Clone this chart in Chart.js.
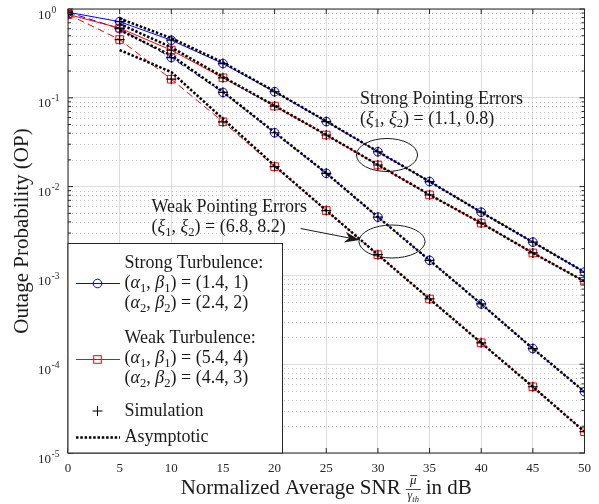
<!DOCTYPE html>
<html lang="en">
<head>
<meta charset="utf-8">
<title>Outage Probability vs Normalized SNR</title>
<script src="https://cdn.jsdelivr.net/npm/chart.js@4.4.1/dist/chart.umd.min.js"></script>
<style>
  html, body { margin: 0; padding: 0; background: #fff; }
  #wrap { position: relative; width: 599px; height: 504px; }
</style>
</head>
<body>
<div id="wrap"><canvas id="op-chart"></canvas></div>
<script>
// Normalized average SNR (dB)
const snrDb = [0, 5, 10, 15, 20, 25, 30, 35, 40, 45, 50];
const asymSnrDb = [5, 10, 15, 20, 25, 30, 35, 40, 45, 50];

// Exact OP
const opStrongTurbStrongPE = [0.92, 0.72, 0.445, 0.243, 0.117, 0.054, 0.0247, 0.0114, 0.00515, 0.00237, 0.00109];
const opWeakTurbStrongPE = [0.87, 0.61, 0.344, 0.168, 0.0807, 0.0381, 0.0175, 0.00807, 0.00388, 0.00179, 0.000857];
const opStrongTurbWeakPE = [0.92, 0.60, 0.284, 0.115, 0.0404, 0.0141, 0.00453, 0.00148, 0.000477, 0.00015, 0.000049];
const opWeakTurbWeakPE = [0.87, 0.453, 0.162, 0.0537, 0.0168, 0.00537, 0.00171, 0.000543, 0.000174, 0.0000557, 0.0000174];

// Asymptotic OP (from 5 dB)
const asymStrongTurbStrongPE = [0.78, 0.47, 0.25, 0.118, 0.0545, 0.0248, 0.0114, 0.00515, 0.00237, 0.00109];
const asymWeakTurbStrongPE = [0.68, 0.37, 0.172, 0.0815, 0.0383, 0.0176, 0.0081, 0.00388, 0.00179, 0.000857];
const asymStrongTurbWeakPE = [0.58, 0.30, 0.117, 0.0408, 0.0142, 0.00455, 0.00148, 0.000477, 0.00015, 0.000049];
const asymWeakTurbWeakPE = [0.345, 0.195, 0.058, 0.0172, 0.0054, 0.00171, 0.000543, 0.000174, 0.0000557, 0.0000174];

// Axes
const yTickValues = [1e-5, 1e-4, 1e-3, 1e-2, 1e-1, 1];
const yTickExponents = ['-5', '-4', '-3', '-2', '-1', '0'];
const yMinorFactors = [2, 3, 4, 5, 6, 7, 8, 9];
const xTickStep = 5;

const FONT = '"Liberation Serif", "Times New Roman", serif';
const AXIS_COLOR = '#262626';
const BLUE = '#0000ff';
const RED = '#ff0000';

const toPoints = (xs, ys) => xs.map((x, i) => ({ x: x, y: ys[i] }));

/**
 * Draw text made of roman / italic / subscript pieces
 */
function drawRich(ctx, parts, x, y, size) {
  let cx = x;
  parts.forEach(([t, k]) => {
    const sub = k === 's';
    const fs = sub ? size * 0.7 : size;
    ctx.font = (k === 'i' ? 'italic ' : '') + fs + 'px ' + FONT;
    ctx.fillText(t, cx, sub ? y + size * 0.22 : y);
    cx += ctx.measureText(t).width;
  });
  return cx;
}

function xiLine(a, b) {
  return [['(', 'r'], ['\u03be', 'i'], ['1', 's'], [', ', 'r'], ['\u03be', 'i'], ['2', 's'], [') = (' + a + ', ' + b + ')', 'r']];
}

function abLine(n, a, b) {
  return [['(', 'r'], ['\u03b1', 'i'], [n, 's'], [', ', 'r'], ['\u03b2', 'i'], [n, 's'], [') = (' + a + ', ' + b + ')', 'r']];
}

const Figure = {
  /**
   * Minor dotted grid on the log axis
   */
  drawMinorGrid(chart) {
    const { ctx, chartArea: a, scales: { y } } = chart;
    ctx.save();
    ctx.strokeStyle = 'rgba(0,0,0,0.22)';
    ctx.lineWidth = 1;
    ctx.setLineDash([1, 3]);
    for (let d = -5; d < 0; d++) {
      yMinorFactors.forEach(m => {
        const py = Math.round(y.getPixelForValue(m * Math.pow(10, d))) + 0.5;
        ctx.beginPath();
        ctx.moveTo(a.left, py);
        ctx.lineTo(a.right, py);
        ctx.stroke();
      });
    }
    ctx.restore();
  },

  /**
   * Log tick labels written as 10 with a raised exponent
   */
  drawYLabels(chart) {
    const { ctx, scales: { y } } = chart;
    ctx.save();
    ctx.fillStyle = AXIS_COLOR;
    ctx.textAlign = 'left';
    ctx.textBaseline = 'alphabetic';
    yTickValues.forEach((v, i) => {
      const py = y.getPixelForValue(v);
      ctx.font = '13px ' + FONT;
      ctx.fillText('10', 38, py + 9.5);
      const w = ctx.measureText('10').width;
      ctx.font = '9.5px ' + FONT;
      ctx.fillText(yTickExponents[i], 38 + w + 0.5, py + 3.5);
    });
    ctx.restore();
  },

  /**
   * Box and inward ticks (MATLAB style)
   */
  drawBox(chart) {
    const { ctx, chartArea: a, scales: { x, y } } = chart;
    ctx.save();
    ctx.strokeStyle = AXIS_COLOR;
    ctx.lineWidth = 1;
    ctx.beginPath();
    for (let v = 0; v <= 50; v += xTickStep) {
      const px = x.getPixelForValue(v);
      ctx.moveTo(px, a.bottom); ctx.lineTo(px, a.bottom - 5);
      ctx.moveTo(px, a.top); ctx.lineTo(px, a.top + 5);
    }
    yTickValues.forEach(v => {
      const py = y.getPixelForValue(v);
      ctx.moveTo(a.left, py); ctx.lineTo(a.left + 5, py);
      ctx.moveTo(a.right, py); ctx.lineTo(a.right - 5, py);
    });
    for (let d = -5; d < 0; d++) {
      yMinorFactors.forEach(m => {
        const py = y.getPixelForValue(m * Math.pow(10, d));
        ctx.moveTo(a.left, py); ctx.lineTo(a.left + 3, py);
        ctx.moveTo(a.right, py); ctx.lineTo(a.right - 3, py);
      });
    }
    ctx.stroke();
    ctx.strokeRect(a.left, a.top, a.right - a.left, a.bottom - a.top);
    ctx.restore();
  },

  /**
   * Ellipses, arrow and pointing error notes
   */
  drawNotes(chart) {
    const ctx = chart.ctx;
    ctx.save();
    ctx.fillStyle = '#1a1a1a';
    ctx.strokeStyle = '#1a1a1a';
    ctx.textBaseline = 'alphabetic';
    ctx.textAlign = 'left';

    drawRich(ctx, [['Strong Pointing Errors', 'r']], 360, 103.5, 18);
    drawRich(ctx, xiLine('1.1', '0.8'), 360, 123.5, 18);
    drawRich(ctx, [['Weak Pointing Errors', 'r']], 151.5, 212, 18);
    drawRich(ctx, xiLine('6.8', '8.2'), 151.5, 232, 18);

    ctx.lineWidth = 1;
    ctx.beginPath();
    ctx.ellipse(387, 155, 30.5, 16.5, 0, 0, Math.PI * 2);
    ctx.stroke();
    ctx.beginPath();
    ctx.ellipse(392, 241.5, 33, 16.5, 0, 0, Math.PI * 2);
    ctx.stroke();

    // Arrow towards the weak pointing error curves
    const sx = 300.5, sy = 228.5, tx = 359.5, ty = 240;
    const len = Math.hypot(tx - sx, ty - sy);
    const ux = (tx - sx) / len, uy = (ty - sy) / len;
    const nx = -uy, ny = ux;
    const hl = 15, hw = 5.5;
    ctx.beginPath();
    ctx.moveTo(sx, sy);
    ctx.lineTo(tx - hl * 0.7 * ux, ty - hl * 0.7 * uy);
    ctx.stroke();
    ctx.beginPath();
    ctx.moveTo(tx, ty);
    ctx.lineTo(tx - hl * ux + hw * nx, ty - hl * uy + hw * ny);
    ctx.lineTo(tx - hl * 0.7 * ux, ty - hl * 0.7 * uy);
    ctx.lineTo(tx - hl * ux - hw * nx, ty - hl * uy - hw * ny);
    ctx.closePath();
    ctx.fill();
    ctx.restore();
  },

  /**
   * Legend box in the lower left corner
   */
  drawLegend(chart) {
    const { ctx, chartArea: a } = chart;
    const left = a.left, top = 243.5, right = 282.5, bottom = a.bottom;
    const mx = 97.5, tx = 124.5;
    ctx.save();
    ctx.fillStyle = '#fff';
    ctx.fillRect(left, top, right - left, bottom - top);
    ctx.strokeStyle = AXIS_COLOR;
    ctx.lineWidth = 1;
    ctx.strokeRect(left, top, right - left, bottom - top);

    // Strong turbulence sample
    ctx.strokeStyle = BLUE;
    ctx.beginPath();
    ctx.moveTo(76, 283.5); ctx.lineTo(120, 283.5);
    ctx.stroke();
    ctx.beginPath();
    ctx.arc(mx, 283.5, 4.3, 0, Math.PI * 2);
    ctx.stroke();

    // Weak turbulence sample
    ctx.strokeStyle = RED;
    ctx.beginPath();
    ctx.moveTo(76, 359.5); ctx.lineTo(120, 359.5);
    ctx.stroke();
    ctx.strokeRect(mx - 3.8, 359.5 - 3.8, 7.6, 7.6);

    // Simulation
    ctx.strokeStyle = '#000';
    ctx.beginPath();
    ctx.moveTo(mx - 5, 411); ctx.lineTo(mx + 5, 411);
    ctx.moveTo(mx, 406); ctx.lineTo(mx, 416);
    ctx.stroke();

    // Asymptotic
    ctx.lineWidth = 2.5;
    ctx.setLineDash([2.5, 1.8]);
    ctx.beginPath();
    ctx.moveTo(76, 437.5); ctx.lineTo(120, 437.5);
    ctx.stroke();
    ctx.setLineDash([]);

    ctx.fillStyle = '#1a1a1a';
    ctx.textBaseline = 'alphabetic';
    drawRich(ctx, [['Strong Turbulence:', 'r']], tx, 268, 18);
    drawRich(ctx, abLine('1', '1.4', '1'), tx, 288, 18);
    drawRich(ctx, abLine('2', '2.4', '2'), tx, 308, 18);
    drawRich(ctx, [['Weak Turbulence:', 'r']], tx, 343, 18);
    drawRich(ctx, abLine('1', '5.4', '4'), tx, 363, 18);
    drawRich(ctx, abLine('2', '4.4', '3'), tx, 383, 18);
    drawRich(ctx, [['Simulation', 'r']], tx, 415.5, 18);
    drawRich(ctx, [['Asymptotic', 'r']], tx, 441.5, 18);
    ctx.restore();
  },

  /**
   * Axis titles (x title holds a fraction)
   */
  drawTitles(chart) {
    const { ctx, chartArea: a } = chart;
    ctx.save();
    ctx.fillStyle = '#1a1a1a';
    ctx.strokeStyle = '#1a1a1a';

    // y title
    ctx.translate(22, (a.top + a.bottom) / 2);
    ctx.rotate(-Math.PI / 2);
    ctx.textAlign = 'center';
    ctx.textBaseline = 'middle';
    ctx.font = '21px ' + FONT;
    ctx.fillText('Outage Probability (OP)', 0, 0);
    ctx.setTransform(1, 0, 0, 1, 0, 0);

    // x title
    ctx.textAlign = 'left';
    ctx.textBaseline = 'alphabetic';
    ctx.font = '21px ' + FONT;
    const t1 = 'Normalized Average SNR';
    const t2 = 'in dB';
    const w1 = ctx.measureText(t1).width;
    const w2 = ctx.measureText(t2).width;
    const fracW = 15, gap = 5;
    const total = w1 + gap + fracW + gap + w2;
    let cx = (a.left + a.right) / 2 - total / 2;
    const base = 494;
    ctx.fillText(t1, cx, base);
    cx += w1 + gap;
    const fc = cx + fracW / 2;
    ctx.lineWidth = 0.8;
    ctx.beginPath();
    ctx.moveTo(cx, 489.5); ctx.lineTo(cx + fracW, 489.5);
    ctx.stroke();
    ctx.font = 'italic 13px ' + FONT;
    ctx.textAlign = 'center';
    ctx.fillText('\u03bc', fc, 484);
    ctx.beginPath();
    ctx.moveTo(fc - 3, 475.5); ctx.lineTo(fc + 4, 475.5);
    ctx.stroke();
    ctx.textAlign = 'left';
    ctx.font = 'italic 12px ' + FONT;
    const gw = ctx.measureText('\u03b3').width;
    ctx.font = 'italic 8.5px ' + FONT;
    const sw = ctx.measureText('th').width;
    const gx = fc - (gw + sw) / 2;
    ctx.font = 'italic 12px ' + FONT;
    ctx.fillText('\u03b3', gx, 499);
    ctx.font = 'italic 8.5px ' + FONT;
    ctx.fillText('th', gx + gw, 501.5);
    cx += fracW + gap;
    ctx.font = '21px ' + FONT;
    ctx.fillText(t2, cx, base);
    ctx.restore();
  }
};

const decorPlugin = {
  id: 'decor',
  beforeDatasetsDraw(chart) {
    Figure.drawMinorGrid(chart);
  },
  afterDatasetsDraw(chart) {
    Figure.drawBox(chart);
  },
  afterDraw(chart) {
    Figure.drawYLabels(chart);
    Figure.drawNotes(chart);
    Figure.drawLegend(chart);
    Figure.drawTitles(chart);
  }
};

function exactSet(label, ys, color, dash, style) {
  return {
    label: label,
    data: toPoints(snrDb, ys),
    borderColor: color,
    borderWidth: 1,
    borderDash: dash,
    pointStyle: style,
    pointRadius: style === 'rect' ? 5.4 : 4.3,
    pointBorderColor: color,
    pointBackgroundColor: 'rgba(0,0,0,0)',
    pointBorderWidth: 1,
    tension: 0,
    order: 2
  };
}

function asymSet(label, ys) {
  return {
    label: label,
    data: toPoints(asymSnrDb, ys),
    borderColor: '#000',
    borderWidth: 2.5,
    borderDash: [2.5, 1.8],
    pointRadius: 0,
    tension: 0,
    order: 1
  };
}

function simSet(label, ys) {
  return {
    label: label,
    data: toPoints(snrDb, ys),
    showLine: false,
    pointStyle: 'cross',
    pointRadius: 5,
    pointBorderColor: '#000',
    pointBorderWidth: 1.2,
    order: 0
  };
}

const tickFont = { family: FONT, size: 13 };

new Chart(document.getElementById('op-chart'), {
  type: 'line',
  data: {
    datasets: [
      simSet('Sim ST SPE', opStrongTurbStrongPE),
      simSet('Sim WT SPE', opWeakTurbStrongPE),
      simSet('Sim ST WPE', opStrongTurbWeakPE),
      simSet('Sim WT WPE', opWeakTurbWeakPE),
      asymSet('Asym ST SPE', asymStrongTurbStrongPE),
      asymSet('Asym WT SPE', asymWeakTurbStrongPE),
      asymSet('Asym ST WPE', asymStrongTurbWeakPE),
      asymSet('Asym WT WPE', asymWeakTurbWeakPE),
      exactSet('Strong Turbulence, strong PE', opStrongTurbStrongPE, BLUE, [], 'circle'),
      exactSet('Weak Turbulence, strong PE', opWeakTurbStrongPE, RED, [], 'rect'),
      exactSet('Strong Turbulence, weak PE', opStrongTurbWeakPE, BLUE, [7, 4], 'circle'),
      exactSet('Weak Turbulence, weak PE', opWeakTurbWeakPE, RED, [7, 4], 'rect')
    ]
  },
  options: {
    responsive: true,
    maintainAspectRatio: false,
    animation: false,
    layout: { padding: { left: 0, right: 7, top: 9, bottom: 0 } },
    plugins: {
      legend: { display: false },
      tooltip: { enabled: false }
    },
    scales: {
      x: {
        type: 'linear',
        min: 0,
        max: 50,
        ticks: { stepSize: xTickStep, font: tickFont, color: AXIS_COLOR, padding: 8, maxRotation: 0 },
        grid: { color: '#dddddd', lineWidth: 1, drawTicks: false },
        border: { display: false },
        afterFit(scale) { scale.height = 51; }
      },
      y: {
        type: 'logarithmic',
        min: 1e-5,
        max: 1,
        afterBuildTicks(scale) {
          scale.ticks = yTickValues.map(v => ({ value: v, major: true }));
        },
        ticks: { display: false },
        grid: { color: '#dddddd', lineWidth: 1, drawTicks: false },
        border: { display: false },
        afterFit(scale) { scale.width = 68; }
      }
    }
  },
  plugins: [decorPlugin]
});
</script>
</body>
</html>
